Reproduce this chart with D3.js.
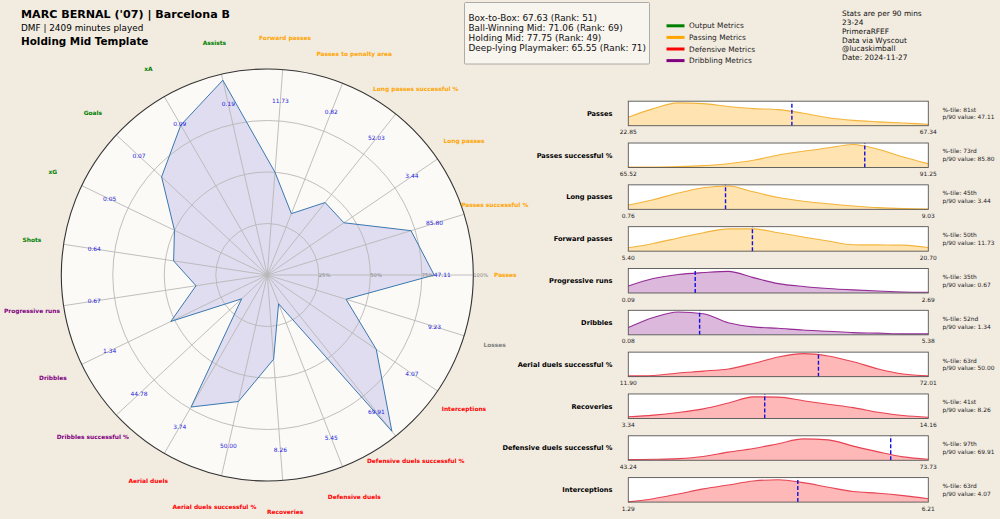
<!DOCTYPE html>
<html><head><meta charset="utf-8">
<script src="https://cdn.jsdelivr.net/npm/d3@7"></script>
<style>
body{margin:0;background:#f2ebe0;}
svg{display:block;font-family:"DejaVu Sans",sans-serif;}
</style>
</head><body>
<svg id="chart" width="1000" height="519"></svg>
<script>
// ---------------- DATA ----------------
const categories = ["Passes","Passes successful %","Long passes","Long passes successful %","Passes to penalty area","Forward passes","Assists","xA","Goals","xG","Shots","Progressive runs","Dribbles","Dribbles successful %","Aerial duels","Aerial duels successful %","Recoveries","Defensive duels","Defensive duels successful %","Interceptions","Losses"];
const categoryGroups = ["Passing","Passing","Passing","Passing","Passing","Passing","Output","Output","Output","Output","Output","Dribbling","Dribbling","Dribbling","Defensive","Defensive","Defensive","Defensive","Defensive","Defensive","Other"];
const percentiles = [81,73,45,45,32,50,97,84,70,50,46,35,52,17,74,63,41,15,97,64,40];
const rawValues = ["47.11","85.80","3.44","52.03","0.82","11.73","0.19","0.09","0.07","0.05","0.64","0.67","1.34","44.78","3.74","50.00","8.26","5.45","69.91","4.07","9.23"];
const ringTicks = [25,50,75,100];

const titleText = "MARC BERNAL ('07) | Barcelona B";
const subtitleText = "DMF | 2409 minutes played";
const templateText = "Holding Mid Template";
const roleScores = ["Box-to-Box: 67.63 (Rank: 51)","Ball-Winning Mid: 71.06 (Rank: 69)","Holding Mid: 77.75 (Rank: 49)","Deep-lying Playmaker: 65.55 (Rank: 71)"];
const legendItems = ["Output Metrics","Passing Metrics","Defensive Metrics","Dribbling Metrics"];
const legendGroups = ["Output","Passing","Defensive","Dribbling"];
const notes = ["Stats are per 90 mins","23-24","PrimeraRFEF","Data via Wyscout","@lucaskimball","Date: 2024-11-27"];

const densLabels = ["Passes","Passes successful %","Long passes","Forward passes","Progressive runs","Dribbles","Aerial duels successful %","Recoveries","Defensive duels successful %","Interceptions"];
const densGroups = ["Passing","Passing","Passing","Passing","Dribbling","Dribbling","Defensive","Defensive","Defensive","Defensive"];
const densMin = [22.85,65.52,0.76,5.40,0.09,0.08,11.90,3.34,43.24,1.29];
const densMax = [67.34,91.25,9.03,20.70,2.69,5.38,72.01,14.16,73.73,6.21];
const densPlayer = [47.11,85.80,3.44,11.73,0.67,1.34,50.00,8.26,69.91,4.07];
const densPct = ["81st","73rd","45th","50th","35th","52nd","63rd","41st","97th","63rd"];
// relative density read at 13 evenly spaced points across each range
const densCurves = [
  [0.35,0.71,0.95,0.92,0.80,0.71,0.67,0.52,0.33,0.22,0.16,0.11,0.06],
  [0.02,0.02,0.04,0.08,0.16,0.30,0.52,0.68,0.82,0.96,0.76,0.44,0.16],
  [0.18,0.40,0.68,0.90,0.97,0.73,0.49,0.34,0.23,0.14,0.07,0.03,0.01],
  [0.14,0.32,0.55,0.77,0.93,0.93,0.77,0.59,0.42,0.27,0.26,0.25,0.15],
  [0.29,0.60,0.77,0.85,0.90,0.64,0.39,0.27,0.19,0.13,0.08,0.04,0.03],
  [0.30,0.72,0.95,0.88,0.50,0.33,0.27,0.20,0.15,0.09,0.07,0.04,0.04],
  [0.03,0.05,0.15,0.23,0.32,0.55,0.82,0.96,0.86,0.62,0.32,0.11,0.03],
  [0.07,0.14,0.25,0.40,0.64,0.90,0.89,0.74,0.59,0.45,0.26,0.12,0.05],
  [0.03,0.04,0.07,0.16,0.34,0.49,0.69,0.89,0.85,0.59,0.35,0.14,0.04],
  [0.01,0.14,0.34,0.55,0.71,0.88,0.93,0.81,0.62,0.44,0.37,0.27,0.14]
];

// ---------------- STYLE ----------------
const groupColor = {Output:"#008000",Passing:"#ffa500",Defensive:"#ff0000",Dribbling:"#800080",Other:"#808080"};
const fillColor = {Passing:"rgba(255,165,0,0.3)",Dribbling:"rgba(128,0,128,0.28)",Defensive:"rgba(255,0,0,0.28)"};
const lineColor = {Passing:"rgba(240,165,20,0.8)",Dribbling:"rgba(128,0,128,0.8)",Defensive:"rgba(225,30,50,0.8)"};

const svg = d3.select("#chart");
svg.append("rect").attr("width",1000).attr("height",519).attr("fill","#f2ebe0");

// ---------------- HEADER ----------------
svg.append("text").attr("x",21).attr("y",18).attr("font-size",11.1).attr("font-weight","bold").text(titleText);
svg.append("text").attr("x",21).attr("y",30.5).attr("font-size",8.9).text(subtitleText);
svg.append("text").attr("x",21).attr("y",45).attr("font-size",10.4).attr("font-weight","bold").text(templateText);

svg.append("rect").attr("x",464.5).attr("y",2.5).attr("width",185).attr("height",61.5)
  .attr("fill","#f8f4ee").attr("stroke","#999").attr("stroke-width",0.8).attr("rx",1);
svg.selectAll(".role").data(roleScores).join("text")
  .attr("x",468.5).attr("y",(d,i)=>21.3+i*9.9).attr("font-size",8.9).attr("fill","#111").text(d=>d);

const lg = svg.append("g");
legendItems.forEach((t,i)=>{
  const y = 25.8 + i*11.6;
  lg.append("line").attr("x1",666.5).attr("x2",684.5).attr("y1",y).attr("y2",y)
    .attr("stroke",groupColor[legendGroups[i]]).attr("stroke-width",3);
  lg.append("text").attr("x",689).attr("y",y).attr("dy","0.35em").attr("font-size",7.4).attr("fill","#222").text(t);
});
svg.selectAll(".note").data(notes).join("text")
  .attr("x",842).attr("y",(d,i)=>13.1+i*8.95).attr("dy","0.35em").attr("font-size",7.4).attr("fill","#111").text(d=>d);

// ---------------- RADAR ----------------
const cx = 267.3, cy = 275, R = 206;
const rScale = d3.scaleLinear().domain([0,100]).range([0,R]);
const n = categories.length;
const ang = i => i*2*Math.PI/n; // ccw from east
const radar = svg.append("g").attr("transform",`translate(${cx},${cy})`);

radar.append("circle").attr("r",R).attr("fill","#fcfaf6");

const radial = d3.lineRadial()
  .angle((d,i)=>Math.PI/2 - ang(i))
  .radius(d=>rScale(d))
  .curve(d3.curveLinearClosed);
radar.append("path").attr("d",radial(percentiles))
  .attr("fill","rgba(60,60,200,0.15)").attr("stroke","none");

ringTicks.slice(0,3).forEach(t=>{
  radar.append("circle").attr("r",rScale(t)).attr("fill","none").attr("stroke","#b8b8b8").attr("stroke-width",0.9);
});
categories.forEach((c,i)=>{
  radar.append("line").attr("x1",0).attr("y1",0)
    .attr("x2",rScale(100)*Math.cos(ang(i))).attr("y2",-rScale(100)*Math.sin(ang(i)))
    .attr("stroke","#b8b8b8").attr("stroke-width",0.9);
});
radar.append("path").attr("d",radial(percentiles))
  .attr("fill","none").attr("stroke","#3a78b0").attr("stroke-width",1);

radar.append("circle").attr("r",R).attr("fill","none").attr("stroke","#333").attr("stroke-width",1.1);

ringTicks.forEach(t=>{
  radar.append("text").attr("x",rScale(t)).attr("y",0).attr("dy","0.35em")
    .attr("font-size",5.2).attr("fill","#888").text(t+"%");
});

categories.forEach((c,i)=>{
  const a = ang(i);
  radar.append("text").attr("x",175*Math.cos(a)).attr("y",-175*Math.sin(a)).attr("dy","0.35em")
    .attr("text-anchor","middle").attr("font-size",5.9).attr("fill","#1a1adf").text(rawValues[i]);
  radar.append("text").attr("x",238*Math.cos(a)).attr("y",-238*Math.sin(a)).attr("dy","0.35em")
    .attr("text-anchor","middle").attr("font-size",5.9).attr("font-weight","bold")
    .attr("fill",groupColor[categoryGroups[i]]).text(c);
});

// ---------------- DENSITY PANELS ----------------
const px0 = 628.3, px1 = 928.3, panelH = 24.5;
const panelTop = d3.scaleLinear().domain([0,9]).range([101.2,477.6]);
densLabels.forEach((lab,k)=>{
  const top = panelTop(k), bot = top + panelH;
  const g = svg.append("g");
  const x = d3.scaleLinear().domain([densMin[k],densMax[k]]).range([px0,px1]);
  const y = d3.scaleLinear().domain([0,1.02]).range([bot,top]);
  const step = (densMax[k]-densMin[k])/(densCurves[k].length-1);
  const pts = densCurves[k].map((v,j)=>[densMin[k]+j*step, v]);
  g.append("rect").attr("x",px0).attr("y",top).attr("width",px1-px0).attr("height",panelH).attr("fill","#ffffff");
  const area = d3.area().x(d=>x(d[0])).y0(bot).y1(d=>y(d[1])).curve(d3.curveMonotoneX);
  const line = d3.line().x(d=>x(d[0])).y(d=>y(d[1])).curve(d3.curveMonotoneX);
  const grp = densGroups[k];
  g.append("path").attr("d",area(pts)).attr("fill",fillColor[grp]);
  g.append("path").attr("d",line(pts)).attr("fill","none").attr("stroke",lineColor[grp]).attr("stroke-width",1.1);
  g.append("line").attr("x1",x(densPlayer[k])).attr("x2",x(densPlayer[k])).attr("y1",bot).attr("y2",top)
    .attr("stroke","#1010e0").attr("stroke-width",1.4).attr("stroke-dasharray","4,2");
  g.append("rect").attr("x",px0).attr("y",top).attr("width",px1-px0).attr("height",panelH)
    .attr("fill","none").attr("stroke","#555").attr("stroke-width",0.9);
  g.append("text").attr("x",612.5).attr("y",top+panelH/2).attr("dy","0.35em").attr("text-anchor","end")
    .attr("font-size",6.66).attr("font-weight","bold").attr("fill","#000").text(lab);
  g.append("text").attr("x",px0).attr("y",bot+6.6).attr("dy","0.35em").attr("text-anchor","middle")
    .attr("font-size",5.9).attr("fill","#222").text(d3.format(".2f")(densMin[k]));
  g.append("text").attr("x",px1).attr("y",bot+6.6).attr("dy","0.35em").attr("text-anchor","middle")
    .attr("font-size",5.9).attr("fill","#222").text(d3.format(".2f")(densMax[k]));
  g.append("text").attr("x",942.5).attr("y",top+panelH/2-3.9).attr("dy","0.35em")
    .attr("font-size",5.9).attr("fill","#222").text("%-tile: "+densPct[k]);
  g.append("text").attr("x",942.5).attr("y",top+panelH/2+3.9).attr("dy","0.35em")
    .attr("font-size",5.9).attr("fill","#222").text("p/90 value: "+d3.format(".2f")(densPlayer[k]));
});
</script>
</body></html>
